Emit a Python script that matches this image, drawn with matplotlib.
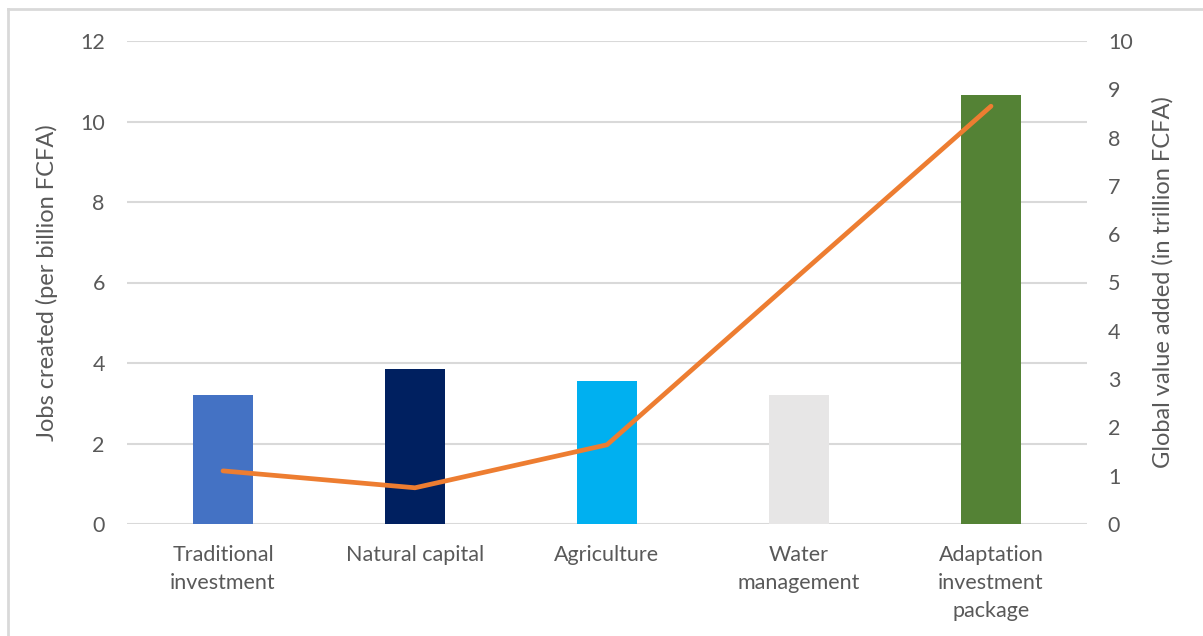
import matplotlib.pyplot as plt
from matplotlib.lines import Line2D
import numpy as np

categories = ["Traditional\ninvestment", "Natural capital", "Agriculture",
              "Water\nmanagement", "Adaptation\ninvestment\npackage"]
jobs_created = [3.2, 3.85, 3.55, 3.2, 10.65]
value_added = [1.1, 0.75, 1.64, 5.15, 8.65]
bar_colors = ["#4472C4", "#002060", "#00B0F0", "#E7E6E6", "#548235"]

plt.rcParams["font.family"] = ["Lato", "DejaVu Sans"]
text_color = "#595959"

fig = plt.figure(figsize=(12.03, 6.36), dpi=100)
ax = fig.add_axes([127 / 1203, 1 - 524 / 636, 960 / 1203, 483 / 636])
x = np.arange(len(categories))

ax.bar(x, jobs_created, width=0.31, color=bar_colors, zorder=2)
ax.set_xlim(-0.5, len(categories) - 0.5)
ax.set_ylim(0, 12)
ax.set_yticks(np.arange(0, 13, 2))
ax.yaxis.grid(True, color="#D9D9D9", linewidth=1.5, zorder=0)
ax.set_axisbelow(True)
for s in ax.spines.values():
    s.set_visible(False)
ax.tick_params(axis="both", length=0, labelsize=15.5, colors=text_color)
ax.tick_params(axis="y", pad=16)
ax.set_xticks(x)
ax.set_xticklabels(categories, linespacing=1.5)
ax.tick_params(axis="x", pad=15)
ax.set_ylabel("Jobs created (per billion FCFA)", fontsize=17, color=text_color, labelpad=16)

ax2 = ax.twinx()
ax2.plot(x, value_added, color="#ED7D31", linewidth=3.4, solid_capstyle="round", zorder=3)
ax2.set_ylim(0, 10)
ax2.set_yticks(np.arange(0, 11, 1))
for s in ax2.spines.values():
    s.set_visible(False)
ax2.tick_params(axis="y", length=0, labelsize=15.5, colors=text_color, pad=15)
ax2.set_ylabel("Global value added (in trillion FCFA)", fontsize=17, color=text_color, labelpad=14)

# chart frame (left and top edges visible)
fig.add_artist(Line2D([8 / 1203, 8 / 1203], [0, 1 - 9 / 636], transform=fig.transFigure,
                      color="#D9D9D9", linewidth=2))
fig.add_artist(Line2D([8 / 1203, 1], [1 - 9 / 636, 1 - 9 / 636], transform=fig.transFigure,
                      color="#D9D9D9", linewidth=2))

fig.savefig("out.png", dpi=100)
